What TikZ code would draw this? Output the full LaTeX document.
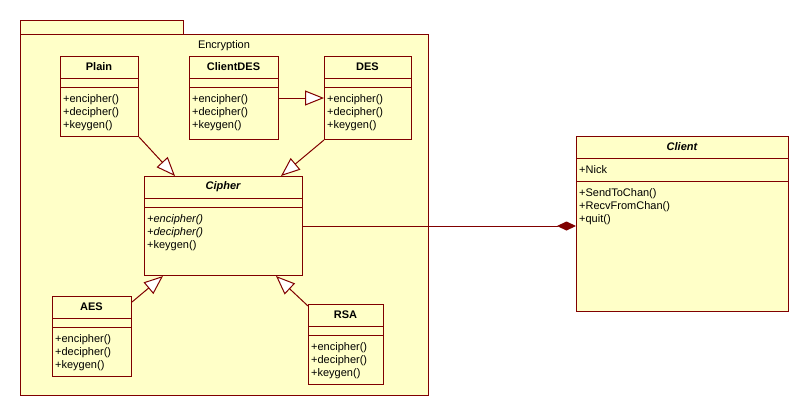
\documentclass[tikz,border=0pt]{standalone}
\usepackage{fontspec}
\setmainfont{Liberation Sans}
\usetikzlibrary{arrows.meta}
\definecolor{umlfill}{RGB}{255,255,200}
\definecolor{umlline}{RGB}{128,0,0}
\tikzset{
 clsbox/.style={draw=umlline, fill=umlfill, line width=1pt, inner sep=0pt, anchor=north west},
 clsline/.style={draw=umlline, line width=1pt},
 clstitle/.style={font=\fontsize{11}{13}\selectfont\bfseries, inner sep=0pt},
 clsops/.style={font=\fontsize{11}{13}\selectfont, inner sep=0pt, align=left, anchor=north west},
 gen/.style={draw=umlline, line width=1pt, -{Triangle[length=19pt,width=15pt,fill=white,line width=1pt]}},
 comp/.style={draw=umlline, line width=1pt, -{Diamond[length=19pt,width=9pt,fill=umlline]}},
}
\newcommand\UMLbox[7]{%
 \node[clsbox, minimum width=#4pt, minimum height=#5pt] (#1) at (#2,#3) {};
 \draw[clsline] (#2,#3+#6) -- ++(#4,0);
 \draw[clsline] (#2,#3+#7) -- ++(#4,0);
}
\begin{document}
\begin{tikzpicture}[x=1pt,y=-1pt]
\useasboundingbox[fill=white] (0,0) rectangle (808,416);
% package
\node[clsbox, minimum width=163pt, minimum height=14pt] (tab) at (20,20) {};
\node[clsbox, minimum width=408pt, minimum height=361pt] (pkg) at (20,34) {};
\node[clsops, anchor=center] (pkgname) at (224,46) {Encryption};
% classes
\UMLbox{plain}{60}{56}{78}{80}{22}{31}
\node[clstitle] (plain-t) at (99,67) {Plain};
\node[clsops] (plain-o) at (63,94) {+encipher()\\+decipher()\\+keygen()};
\UMLbox{clientdes}{189}{56}{89}{83}{22}{31}
\node[clstitle] (clientdes-t) at (233.5,67) {ClientDES};
\node[clsops] (clientdes-o) at (192,94) {+encipher()\\+decipher()\\+keygen()};
\UMLbox{des}{324}{56}{87}{83}{22}{31}
\node[clstitle] (des-t) at (367.5,67) {DES};
\node[clsops] (des-o) at (327,94) {+encipher()\\+decipher()\\+keygen()};
\UMLbox{cipher}{144}{176}{158}{99}{22}{31}
\node[clstitle] (cipher-t) at (223,187) {\itshape Cipher};
\node[clsops] (cipher-o) at (147,214) {\itshape +encipher()\\\itshape +decipher()\\+keygen()};
\UMLbox{aes}{52}{296}{79}{80}{22}{31}
\node[clstitle] (aes-t) at (91.5,307) {AES};
\node[clsops] (aes-o) at (55,334) {+encipher()\\+decipher()\\+keygen()};
\UMLbox{rsa}{308}{304}{75}{80}{22}{31}
\node[clstitle] (rsa-t) at (345.5,315) {RSA};
\node[clsops] (rsa-o) at (311,342) {+encipher()\\+decipher()\\+keygen()};
\UMLbox{client}{576}{136}{212}{175}{22}{45}
\node[clstitle] (client-t) at (682,147) {\itshape Client};
\node[clsops] (client-a) at (579,165) {+Nick};
\node[clsops] (client-o) at (579,188) {+SendToChan()\\+RecvFromChan()\\+quit()};
% connectors
\draw[gen] (plain.south east) -- ([xshift=31pt]cipher.north west);
\draw[gen] (des.south west) -- ([xshift=-22pt]cipher.north east);
\draw[gen] ([yshift=-42pt]clientdes.north east) -- ([yshift=-42pt]des.north west);
\draw[gen] ([yshift=-6pt]aes.north east) -- ([xshift=19pt]cipher.south west);
\draw[gen] ([yshift=-2pt]rsa.north west) -- ([xshift=-27pt]cipher.south east);
\draw[comp] ([yshift=-50pt]cipher.north east) -- ([yshift=-90pt]client.north west);
\end{tikzpicture}
\end{document}
